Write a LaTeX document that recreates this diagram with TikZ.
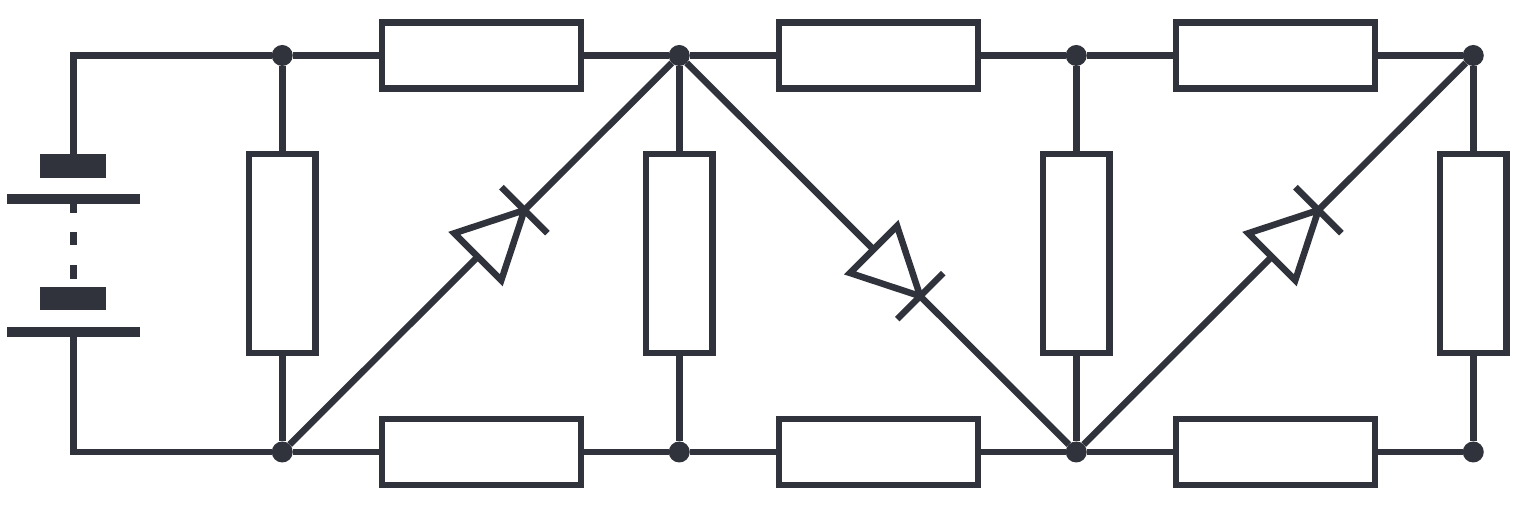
\documentclass[tikz,border=0pt]{standalone}
\usepackage{xcolor}
\usetikzlibrary{shapes.geometric,positioning,calc}
\definecolor{ink}{HTML}{30333B}
\tikzstyle{wire}=   [draw=ink,
line width=0.13cm,
]
\tikzstyle{res}=    [draw=ink,
fill=white,
line width=0.13cm,
rectangle,
inner sep=0,
outer sep=0,
minimum width=3.98cm,
minimum height=1.32cm,
]
\tikzstyle{resv}=   [res,
minimum width=1.33cm,
minimum height=3.98cm,
]
\tikzstyle{junction}= [fill=ink,
circle,
inner sep=0,
outer sep=0,
minimum size=0.42cm,
]
\tikzstyle{cellthick}= [fill=ink,
rectangle,
inner sep=0,
outer sep=0,
minimum width=1.32cm,
minimum height=0.47cm,
]
\tikzstyle{cellthin}= [fill=ink,
rectangle,
inner sep=0,
outer sep=0,
minimum width=2.65cm,
minimum height=0.2cm,
]
\tikzstyle{diode}=  [draw=ink,
fill=white,
line width=0.13cm,
isosceles triangle,
isosceles triangle stretches,
inner sep=0,
outer sep=0,
minimum width=1.33cm,
minimum height=1.32cm,
anchor=apex,
]
\tikzstyle{bar}=    [fill=ink,
rectangle,
inner sep=0,
outer sep=0,
minimum width=0.13cm,
minimum height=1.3cm,
]

\begin{document}
\begin{tikzpicture}[on grid]
        \useasboundingbox (0,0) rectangle (30.7,10.2);
        % junctions
        \node[junction] (top1) at (5.645,9.09) {};
        \node[junction, right=7.94cm of top1] (top2) {};
        \node[junction, right=7.94cm of top2] (top3) {};
        \node[junction, right=7.94cm of top3] (top4) {};
        \node[junction, below=7.93cm of top1] (bot1) {};
        \node[junction, below=7.93cm of top2] (bot2) {};
        \node[junction, below=7.93cm of top3] (bot3) {};
        \node[junction, below=7.93cm of top4] (bot4) {};
        \coordinate[left=4.18cm of top1] (corner_top);
        \coordinate[left=4.18cm of bot1] (corner_bot);

        % battery
        \node[cellthick] (cell1a) at ($(corner_top)+(0,-2.21)$) {};
        \node[cellthin, below=0.666cm of cell1a] (cell1b) {};
        \node[cellthick, below=2.646cm of cell1a] (cell2a) {};
        \node[cellthin, below=0.668cm of cell2a] (cell2b) {};
        \draw[wire] (top1) -- (corner_top) -- (cell1a);
        \draw[wire] (bot1) -- (corner_bot) -- (cell2b);
        \draw[wire, dash pattern=on 0.17cm off 0.38cm on 0.27cm off 0.4cm on 0.28cm off 2cm] (cell1b.south) -- (cell2a.north);

        % wires first, the parts go on top
        \draw[wire] (top1) -- (top2) -- (top3) -- (top4) -- (bot4) -- (bot3) -- (bot2) -- (bot1);
        \draw[wire] (top1) -- (bot1) (top2) -- (bot2) (top3) -- (bot3);
        \draw[wire] (bot1) -- (top2) -- (bot3) -- (top4);

        % resistors
        \node[res, right=3.98cm of top1] (r_top1) {};
        \node[res, right=3.98cm of top2] (r_top2) {};
        \node[res, right=3.98cm of top3] (r_top3) {};
        \node[res, right=3.98cm of bot1] (r_bot1) {};
        \node[res, right=3.98cm of bot2] (r_bot2) {};
        \node[res, right=3.98cm of bot3] (r_bot3) {};
        \node[resv, below=3.965cm of top1] (r_v1) {};
        \node[resv, below=3.965cm of top2] (r_v2) {};
        \node[resv, below=3.965cm of top3] (r_v3) {};
        \node[resv, below=3.965cm of top4] (r_v4) {};

        % diodes
        \node[diode, rotate=45] (d1) at ($(bot1)!0.61!(top2)$) {};
        \node[diode, rotate=-45] (d2) at ($(top2)!0.607!(bot3)$) {};
        \node[diode, rotate=45] (d3) at ($(bot3)!0.61!(top4)$) {};
        \node[bar, rotate=45] (bar1) at (d1.apex) {};
        \node[bar, rotate=-45] (bar2) at (d2.apex) {};
        \node[bar, rotate=45] (bar3) at (d3.apex) {};
\end{tikzpicture}
\end{document}
